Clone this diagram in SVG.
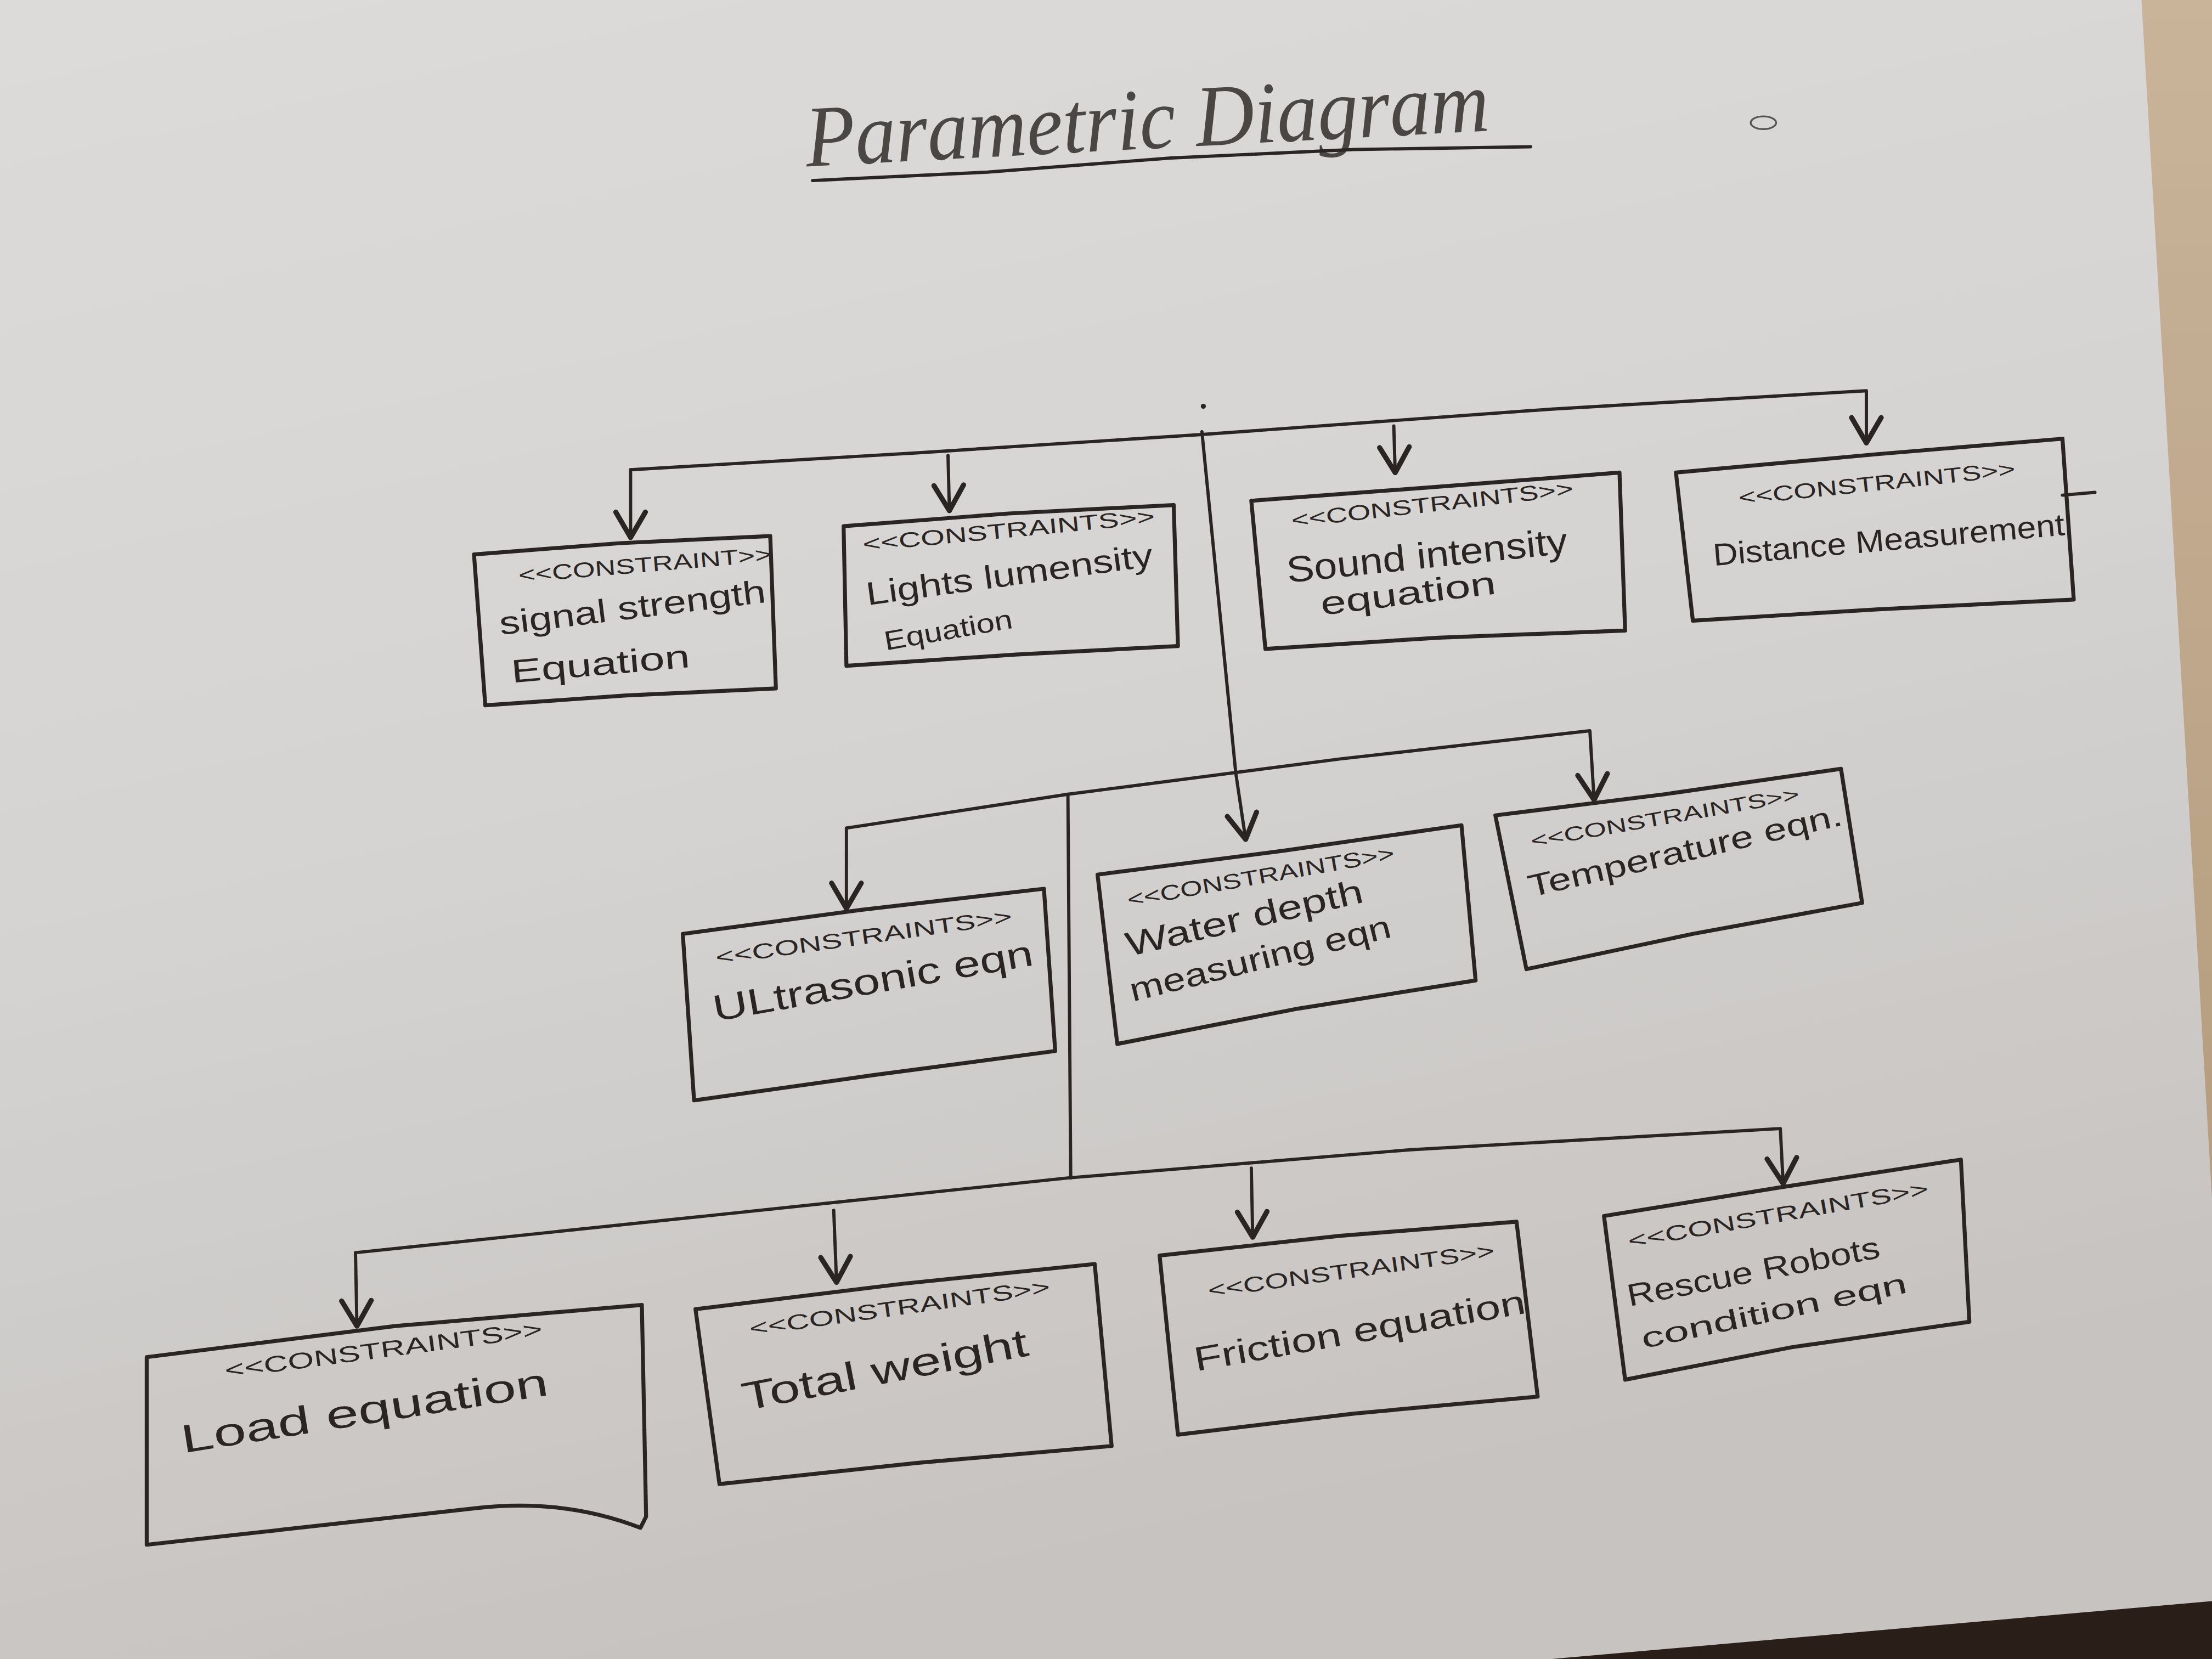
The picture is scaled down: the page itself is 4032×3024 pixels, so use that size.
<svg xmlns="http://www.w3.org/2000/svg" width="4032" height="3024" viewBox="0 0 4032 3024">
<defs>
<linearGradient id="paper" x1="0" y1="0" x2="0.3" y2="1">
<stop offset="0" stop-color="#dddbd9"/>
<stop offset="0.5" stop-color="#d6d4d2"/>
<stop offset="1" stop-color="#c6c3c1"/>
</linearGradient>
<linearGradient id="table" x1="0" y1="0" x2="0" y2="1">
<stop offset="0" stop-color="#c9b49a"/>
<stop offset="1" stop-color="#b59c7e"/>
</linearGradient>
<marker id="arr" markerUnits="userSpaceOnUse" markerWidth="30" markerHeight="30" viewBox="-16 -10 20 20" refX="0" refY="0" orient="auto">
<path d="M-12,-7 L0,0 L-12,7" fill="none" stroke="#2a2522" stroke-width="2.4" stroke-linecap="round" stroke-linejoin="round"/>
</marker>
<style>
.ln{fill:none;stroke:#2a2522;stroke-width:2.3;stroke-linecap:round;stroke-linejoin:round}
.bx{fill:none;stroke:#2a2522;stroke-width:2.8;stroke-linecap:round;stroke-linejoin:round}
.st{font-family:"Liberation Sans",Arial,sans-serif;fill:#2a2522;font-size:15px}
.lb{font-family:"Liberation Sans",Arial,sans-serif;fill:#2a2522;font-size:23px}
.tt{font-family:"Liberation Serif","Times New Roman",serif;font-style:italic;fill:#4a4644;font-size:62px}
</style>
</defs>
<g transform="scale(2.571428)">
<rect x="0" y="0" width="1568" height="1176" fill="url(#paper)"/>
<polygon points="1518,0 1568,0 1568,850" fill="url(#table)"/>
<polygon points="1100,1176 1568,1135 1568,1176" fill="#2a1e18"/>

<g id="title">
<text class="tt" x="572" y="118" textLength="485" lengthAdjust="spacingAndGlyphs" transform="rotate(-3 572 118)">Parametric Diagram</text>
<path class="ln" d="M576,128 L700,122 L830,112 L960,106 L1085,104" stroke="#4a4644" stroke-width="2"/>
<ellipse cx="1250" cy="87" rx="9" ry="4.5" fill="none" stroke="#555" stroke-width="1.3"/>
</g>

<g id="connectors">
<path class="ln" d="M447,333 L650,321 L852,308 L1100,290 L1323,277 L1323,314" marker-end="url(#arr)"/>
<path class="ln" d="M447,333 L447,381" marker-end="url(#arr)"/>
<path class="ln" d="M672,323 L673,362" marker-end="url(#arr)"/>
<path class="ln" d="M988,302 L989,335" marker-end="url(#arr)"/>
<circle cx="853" cy="288" r="1.8" fill="#2a2522"/>
<path class="ln" d="M852,306 L876,548 L883,595" marker-end="url(#arr)"/>
<path class="ln" d="M600,587 L757,563 L950,538 L1127,518 L1130,567" marker-end="url(#arr)"/>
<path class="ln" d="M600,587 L600,644" marker-end="url(#arr)"/>
<path class="ln" d="M757,563 L759,835" stroke-width="1.7"/>
<path class="ln" d="M252,888 L500,862 L757,835 L1000,815 L1262,800 L1264,839" marker-end="url(#arr)"/>
<path class="ln" d="M252,888 L253,940" marker-end="url(#arr)"/>
<path class="ln" d="M591,858 L593,909" marker-end="url(#arr)"/>
<path class="ln" d="M887,828 L888,877" marker-end="url(#arr)"/>
</g>

<g id="node-signal">
<path class="bx" d="M336,393 L440,385 L546,380 L550,488 L444,493 L344,500 Z"/>
<text class="st" x="368" y="413" textLength="180" lengthAdjust="spacingAndGlyphs" transform="rotate(-4.8 368 413)">&lt;&lt;CONSTRAINT&gt;&gt;</text>
<text class="lb" x="355" y="450" textLength="190" lengthAdjust="spacingAndGlyphs" transform="rotate(-7 355 450)">signal strength</text>
<text class="lb" x="363" y="484" textLength="127" lengthAdjust="spacingAndGlyphs" transform="rotate(-5 363 484)">Equation</text>
</g>

<g id="node-lights">
<path class="bx" d="M598,373 L715,364 L832,358 L835,458 L720,464 L600,472 Z"/>
<text class="st" x="612" y="391" textLength="208" lengthAdjust="spacingAndGlyphs" transform="rotate(-5.5 612 391)">&lt;&lt;CONSTRAINTS&gt;&gt;</text>
<text class="lb" x="615" y="429" textLength="205" lengthAdjust="spacingAndGlyphs" transform="rotate(-7.8 615 429)">Lights lumensity</text>
<text class="lb" x="628" y="461" textLength="92" lengthAdjust="spacingAndGlyphs" style="font-size:19px" transform="rotate(-10 628 461)">Equation</text>
</g>

<g id="node-sound">
<path class="bx" d="M887,355 L1020,345 L1148,335 L1152,447 L1020,452 L897,460 Z"/>
<text class="st" x="916" y="374" textLength="201" lengthAdjust="spacingAndGlyphs" transform="rotate(-6.5 916 374)">&lt;&lt;CONSTRAINTS&gt;&gt;</text>
<text class="lb" x="913" y="413" textLength="200" lengthAdjust="spacingAndGlyphs" style="font-size:26px" transform="rotate(-6 913 413)">Sound intensity</text>
<text class="lb" x="937" y="436" textLength="125" lengthAdjust="spacingAndGlyphs" transform="rotate(-7 937 436)">equation</text>
</g>

<g id="node-distance">
<path class="bx" d="M1188,335 L1330,322 L1462,311 L1470,425 L1330,432 L1200,440 Z"/>
<path class="ln" d="M1462,351 L1485,349"/>
<text class="st" x="1233" y="358" textLength="197" lengthAdjust="spacingAndGlyphs" transform="rotate(-6 1233 358)">&lt;&lt;CONSTRAINTS&gt;&gt;</text>
<text class="lb" x="1215" y="401" textLength="250" lengthAdjust="spacingAndGlyphs" style="font-size:22px" transform="rotate(-5 1215 401)">Distance Measurement</text>
</g>

<g id="node-ultrasonic">
<path class="bx" d="M484,662 L610,645 L740,630 L748,745 L620,762 L492,780 Z"/>
<text class="st" x="508" y="684" textLength="212" lengthAdjust="spacingAndGlyphs" transform="rotate(-8 508 684)">&lt;&lt;CONSTRAINTS&gt;&gt;</text>
<text class="lb" x="507" y="724" textLength="230" lengthAdjust="spacingAndGlyphs" style="font-size:26px" transform="rotate(-10 507 724)">ULtrasonic eqn</text>
</g>

<g id="node-water">
<path class="bx" d="M778,620 L910,603 L1036,585 L1046,695 L920,715 L792,740 Z"/>
<text class="st" x="800" y="643" textLength="192" lengthAdjust="spacingAndGlyphs" transform="rotate(-10 800 643)">&lt;&lt;CONSTRAINTS&gt;&gt;</text>
<text class="lb" x="800" y="678" textLength="172" lengthAdjust="spacingAndGlyphs" style="font-size:24px" transform="rotate(-13 800 678)">Water depth</text>
<text class="lb" x="803" y="710" textLength="190" lengthAdjust="spacingAndGlyphs" transform="rotate(-14 803 710)">measuring eqn</text>
</g>

<g id="node-temperature">
<path class="bx" d="M1060,578 L1180,563 L1305,545 L1320,640 L1200,662 L1082,687 Z"/>
<text class="st" x="1086" y="601" textLength="193" lengthAdjust="spacingAndGlyphs" style="font-size:14px" transform="rotate(-10 1086 601)">&lt;&lt;CONSTRAINTS&gt;&gt;</text>
<text class="lb" x="1085" y="636" textLength="228" lengthAdjust="spacingAndGlyphs" style="font-size:22px" transform="rotate(-13 1085 636)">Temperature eqn.</text>
</g>

<g id="node-load">
<path class="bx" d="M104,962 L280,940 L455,925 L458,1075 L454,1083 Q400,1062 338,1069 L104,1095 Z"/>
<text class="st" x="160" y="977" textLength="227" lengthAdjust="spacingAndGlyphs" style="font-size:16px" transform="rotate(-7.5 160 977)">&lt;&lt;CONSTRAINTS&gt;&gt;</text>
<text class="lb" x="130" y="1030" textLength="263" lengthAdjust="spacingAndGlyphs" style="font-size:28px" transform="rotate(-9 130 1030)">Load  equation</text>
</g>

<g id="node-total">
<path class="bx" d="M493,928 L640,910 L776,896 L788,1025 L650,1037 L510,1052 Z"/>
<text class="st" x="532" y="947" textLength="215" lengthAdjust="spacingAndGlyphs" transform="rotate(-8 532 947)">&lt;&lt;CONSTRAINTS&gt;&gt;</text>
<text class="lb" x="528" y="1000" textLength="206" lengthAdjust="spacingAndGlyphs" style="font-size:28px" transform="rotate(-11 528 1000)">Total weight</text>
</g>

<g id="node-friction">
<path class="bx" d="M822,890 L950,876 L1075,866 L1090,990 L960,1002 L835,1017 Z"/>
<text class="st" x="857" y="920" textLength="205" lengthAdjust="spacingAndGlyphs" transform="rotate(-8 857 920)">&lt;&lt;CONSTRAINTS&gt;&gt;</text>
<text class="lb" x="848" y="972" textLength="238" lengthAdjust="spacingAndGlyphs" style="font-size:24px" transform="rotate(-10 848 972)">Friction equation</text>
</g>

<g id="node-rescue">
<path class="bx" d="M1137,862 L1260,842 L1390,822 L1396,937 L1270,955 L1152,978 Z"/>
<text class="st" x="1155" y="885" textLength="216" lengthAdjust="spacingAndGlyphs" transform="rotate(-10 1155 885)">&lt;&lt;CONSTRAINTS&gt;&gt;</text>
<text class="lb" x="1155" y="926" textLength="182" lengthAdjust="spacingAndGlyphs" style="font-size:22px" transform="rotate(-11 1155 926)">Rescue Robots</text>
<text class="lb" x="1165" y="956" textLength="192" lengthAdjust="spacingAndGlyphs" style="font-size:20px" transform="rotate(-12 1165 956)">condition eqn</text>
</g>
</g>
</svg>
